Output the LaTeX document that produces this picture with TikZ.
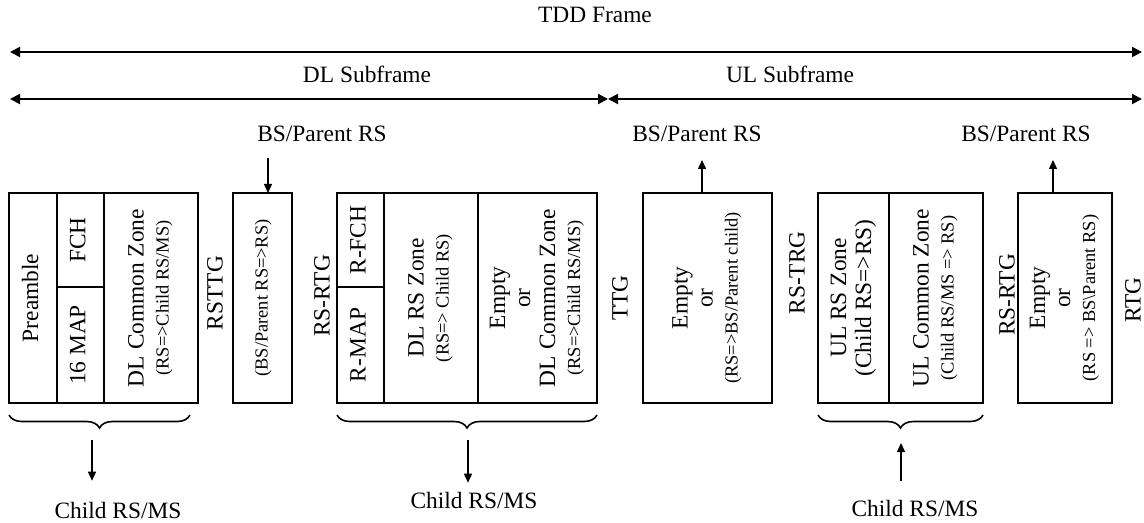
\documentclass[tikz,border=0pt]{standalone}
\usepackage{fontspec}
\setmainfont{Liberation Serif}
\usepackage{graphicx}
\usetikzlibrary{positioning, arrows.meta, decorations.pathreplacing}

\newcommand{\sm}[1]{{\fontsize{9.2}{11}\selectfont #1}}
\newcommand{\vtext}[1]{\rotatebox{90}{\begin{tabular}{@{}c@{}}#1\end{tabular}}}

\begin{document}
\begin{tikzpicture}[x=0.5pt, y=-0.5pt,
    every node/.style={font=\fontsize{11.7}{12.5}\selectfont},
    zone/.style 2 args={draw, line width=0.9pt, inner sep=0pt, outer sep=0pt,
      minimum width=#1, minimum height=#2},
    frame/.style={{Triangle[length=5pt,width=5pt]}-{Triangle[length=5pt,width=5pt]}, line width=1pt},
    link/.style={-{Triangle[length=4.5pt,width=4pt]}, line width=0.7pt},
    grp/.style={decorate, decoration={brace, mirror, amplitude=6.5pt}, line width=0.8pt}]
      \useasboundingbox (0,0) rectangle (1144,523);

      % frame and subframes
      \coordinate (tddL) at (10,52);
      \coordinate (tddR) at (1142,52);
      \coordinate (dlL) at (10,99);
      \coordinate (dlR) at (608,99);
      \coordinate (ulR) at (1142,99);
      \draw[frame] (tddL) -- (tddR);
      \draw[frame] (dlL) -- (dlR);
      \draw[frame] (dlR) -- (ulR);
      \node (tdd) at (595,15) {TDD Frame};
      \node (dlsub) at (367,74) {DL Subframe};
      \node (ulsub) at (790,74) {UL Subframe};

      % DL zones
      \node[zone={24pt}{105pt}] (pre) at (33,298) {\vtext{Preamble}};
      \node[zone={23.5pt}{47pt}] (fch) at (80.5,240) {\vtext{FCH}};
      \node[zone={23.5pt}{58pt}] (map) at (80.5,345) {\vtext{16 MAP}};
      \node[zone={47pt}{105pt}] (dlcz) at (151,298) {\vtext{DL Common Zone\\\sm{(RS=>Child RS/MS)}}};
      \node[zone={29.5pt}{105pt}] (rsttg) at (262.5,298) {\vtext{\sm{(BS/Parent RS=>RS)}}};
      \node[zone={23.5pt}{47pt}] (rfch) at (360.5,240) {\vtext{R-FCH}};
      \node[zone={23.5pt}{58pt}] (rmap) at (360.5,345) {\vtext{R-MAP}};
      \node[zone={47pt}{105pt}] (dlrs) at (431,298) {\vtext{DL RS Zone\\\sm{(RS=> Child RS)}}};
      \node[zone={59.5pt}{105pt}] (dlcz2) at (537.5,298) {\vtext{Empty\\or\\DL Common Zone\\\sm{(RS=>Child RS/MS)}}};

      % UL zones
      \node[zone={64.5pt}{105pt}] (ulx) at (707.5,298) {\vtext{Empty\\or\\\sm{(RS=>BS/Parent child)}}};
      \node[zone={35.5pt}{105pt}] (ulrs) at (853.5,298) {\vtext{UL RS Zone\\(Child RS=>RS)}};
      \node[zone={47pt}{105pt}] (ulcz) at (936,298) {\vtext{UL Common Zone\\\sm{(Child RS/MS => RS)}}};
      \node[zone={47pt}{105pt}] (ulrelay) at (1065,298) {\vtext{Empty\\or\\\sm{(RS => BS\textbackslash Parent RS)}}};

      % gaps
      \node[rotate=90] (g1) at (215,293) {RSTTG};
      \node[rotate=90] (g2) at (322,296) {RS-RTG};
      \node[rotate=90] (g3) at (620,298) {TTG};
      \node[rotate=90] (g4) at (797,273) {RS-TRG};
      \node[rotate=90] (g5) at (1007,295) {RS-RTG};
      \node[rotate=90] (g6) at (1133,300) {RTG};

      % parent side
      \node (bs1) at (322,134) {BS/Parent RS};
      \node (bs2) at (697,134) {BS/Parent RS};
      \node (bs3) at (1026,134) {BS/Parent RS};
      \coordinate (in1) at (268,158);
      \coordinate (out2) at (702,160);
      \coordinate (out3) at (1053,160);
      \draw[link] (in1) -- (in1 |- rsttg.north);
      \draw[link] (out2 |- ulx.north) -- (out2);
      \draw[link] (out3 |- ulrelay.north) -- (out3);

      % child side
      \draw[grp] ([yshift=-6pt]pre.south west) -- ([xshift=-4pt,yshift=-6pt]dlcz.south east);
      \draw[grp] ([yshift=-6pt]rmap.south west) -- ([yshift=-6pt]dlcz2.south east);
      \draw[grp] ([yshift=-6pt]ulrs.south west) -- ([yshift=-6pt]ulcz.south east);
      \node (ch1) at (118,510) {Child RS/MS};
      \node (ch2) at (474,500) {Child RS/MS};
      \node (ch3) at (915,508) {Child RS/MS};
      \coordinate (b1) at (92,440);
      \coordinate (b2) at (468,440);
      \coordinate (b3) at (901,443);
      \draw[link, shorten >=7pt] (b1) -- (b1 |- ch1.north);
      \draw[link, shorten >=1pt] (b2) -- (b2 |- ch2.north);
      \draw[link, shorten <=6pt] (b3 |- ch3.north) -- (b3);
\end{tikzpicture}
\end{document}
